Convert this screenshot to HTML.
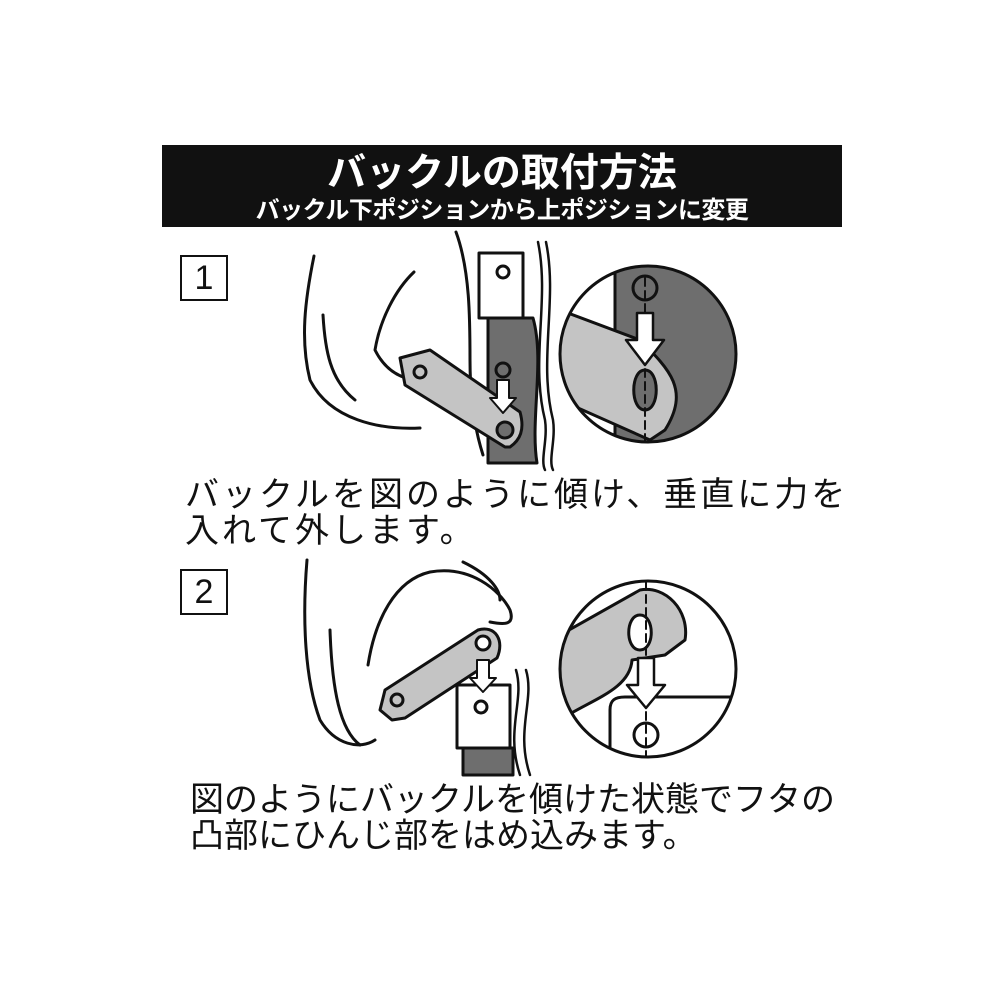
<!DOCTYPE html>
<html><head><meta charset="utf-8"><style>
body{margin:0;width:1000px;height:1000px;background:#fff;position:relative;overflow:hidden;font-family:"Liberation Sans","Noto Sans CJK JP",sans-serif}
.hdr{position:absolute;left:162px;top:145px;width:680px;height:82px;background:#111;color:#fff;text-align:center}
.t1{position:absolute;left:0;right:0;top:6px;font-size:39px;font-weight:bold;line-height:46px}
.t2{position:absolute;left:0;right:0;top:53px;font-size:24px;font-weight:bold;line-height:26px;letter-spacing:-0.5px}
.num{position:absolute;width:44px;height:42px;border:2px solid #111;font-size:34px;line-height:42px;text-align:center;color:#111}
.txt{position:absolute;font-size:34px;line-height:36px;color:#111;letter-spacing:3px;white-space:nowrap}
svg{position:absolute;left:0;top:0}
</style></head><body>
<div class="hdr"><div class="t1">バックルの取付方法</div><div class="t2">バックル下ポジションから上ポジションに変更</div></div>
<div class="num" style="left:180px;top:255px">1</div>
<div class="txt" style="left:185px;top:477px">バックルを図のように傾け、垂直に力を<br>入れて外します。</div>
<div class="num" style="left:180px;top:569px">2</div>
<div class="txt" style="left:190px;top:782px;letter-spacing:0">図のようにバックルを傾けた状態でフタの<br>凸部にひんじ部をはめ込みます。</div>
<svg width="1000" height="1000" viewBox="0 0 1000 1000" fill="none" stroke="#111" stroke-width="3" stroke-linejoin="round" stroke-linecap="round">
<path d="M314 256 C305 300 300 340 310 380 C330 420 380 430 420 428" />
<path d="M323 315 C325 350 330 380 355 400" />
<path d="M414 272 C395 290 380 320 375 350 C385 370 400 378 415 380" />
<path d="M456 232 C470 270 470 320 470 360 C470 400 475 430 483 455"/>
<path d="M479 253 L523 253 L523 318 L479 318 Z" fill="#fff"/>
<circle cx="503" cy="272" r="6" fill="#fff"/>
<path d="M488 318 L533 318 C545 360 530 420 537 463 L488 463 Z" fill="#6e6e6e"/>
<circle cx="503" cy="370" r="7" fill="#6e6e6e"/>
<path d="M538 242 C550 300 530 360 545 420 C548 440 540 460 545 470" stroke-width="2.5"/>
<path d="M546 242 C558 300 538 360 553 420 C556 440 548 460 553 470" stroke-width="2.5"/>
<path d="M400 358 L430 350 L520 412 C525 430 520 440 510 447 L505 447 L405 385 Z" fill="#c4c4c4"/>
<circle cx="505" cy="430" r="8" fill="#6e6e6e"/>
<circle cx="420" cy="372" r="6" fill="#c4c4c4"/>
<path d="M497 380 L509 380 L509 398 L516 398 L503 413 L490 398 L497 398 Z" fill="#fff" stroke-width="2"/>
<clipPath id="c1"><circle cx="648" cy="354" r="88"/></clipPath>
<g clip-path="url(#c1)">
<rect x="615" y="260" width="130" height="190" fill="#6e6e6e"/>
<path d="M560 310 L640 340 C670 370 690 390 665 430 L650 440 L560 400 Z" fill="#c4c4c4"/>
<path d="M645 370 C630 370 630 410 645 410 C660 410 660 370 645 370 Z" fill="#6e6e6e"/>
<circle cx="645" cy="288" r="12" fill="#6e6e6e"/>
<path d="M645 278 V445" stroke-width="2" stroke-dasharray="8 5"/>
<path d="M637 313 L653 313 L653 340 L664 340 L645 365 L626 340 L637 340 Z" fill="#fff" stroke-width="2.5"/>
</g>
<circle cx="648" cy="354" r="88"/>
<path d="M307 560 C302 620 305 680 320 720 C335 745 360 750 375 740"/>
<path d="M330 630 C332 690 340 730 360 745"/>
<path d="M368 665 C375 620 395 580 430 572 C470 565 500 590 510 610 C515 625 505 625 490 622"/>
<path d="M463 562 C490 575 500 590 500 600"/>
<path d="M385 690 L478 630 C495 625 505 640 497 658 L405 718 L392 720 L380 710 Z" fill="#c4c4c4"/>
<circle cx="483" cy="643" r="7" fill="#fff"/>
<circle cx="397" cy="700" r="6" fill="#c4c4c4"/>
<path d="M457 685 L510 685 L510 748 L457 748 Z" fill="#fff"/>
<circle cx="481" cy="707" r="6" fill="#fff"/>
<path d="M463 748 L513 748 L513 775 L463 775 Z" fill="#6e6e6e"/>
<path d="M516 670 C525 700 505 730 520 775" stroke-width="2.5"/>
<path d="M526 670 C535 700 515 730 530 775" stroke-width="2.5"/>
<path d="M477 660 L489 660 L489 678 L496 678 L483 692 L470 678 L477 678 Z" fill="#fff" stroke-width="2"/>
<clipPath id="c2"><circle cx="648" cy="669" r="88"/></clipPath>
<g clip-path="url(#c2)">
<path d="M560 635 L640 590 C665 585 690 610 685 640 L665 655 L632 660 C630 690 590 700 560 720 Z" fill="#c4c4c4"/>
<path d="M640 615 C625 615 625 650 640 650 C655 650 655 615 640 615 Z" fill="#fff"/>
<path d="M610 760 L610 710 C610 700 615 697 625 697 L740 697" fill="none"/>
<circle cx="646" cy="735" r="12" fill="#fff"/>
<path d="M646 582 V760" stroke-width="2" stroke-dasharray="8 5"/>
<path d="M638 658 L654 658 L654 685 L665 685 L646 708 L627 685 L638 685 Z" fill="#fff" stroke-width="2.5"/>
</g>
<circle cx="648" cy="669" r="88"/>
</svg>
</body></html>
